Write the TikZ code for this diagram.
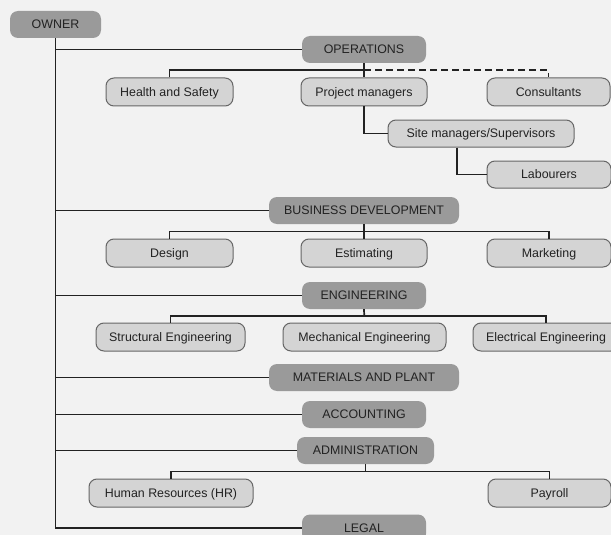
\documentclass[tikz,border=0pt]{standalone}
\usepackage{fontspec}
\setmainfont{Liberation Sans}
\usepackage{xcolor}
\definecolor{colDept}{HTML}{9A9A9A}
\definecolor{colUnit}{HTML}{D4D4D4}
\definecolor{colUnitLine}{HTML}{666666}
\definecolor{colPaper}{HTML}{F2F2F2}
\definecolor{colText}{HTML}{222222}
\usetikzlibrary{calc}

\begin{document}
\begin{tikzpicture}[
				x=1pt, y=-1pt,
				every node/.style={font=\fontsize{12.4}{14}\selectfont, text=colText,
				      text height=9pt, text depth=0.6pt},
				dept/.style={fill=colDept, rounded corners=8pt,
				      minimum height=27pt, inner sep=0pt},
				unit/.style={draw=colUnitLine, line width=1pt, fill=colUnit,
				      rounded corners=8pt, minimum height=28pt, inner sep=0pt},
				link/.style={line width=1.7pt, colText}
			]
				\useasboundingbox (0,0) rectangle (611,535);
				\fill[colPaper] (0,0) rectangle (611,535);
				% top level
				\node[dept, minimum width=91pt] (owner) at (55.5,24.5) {OWNER};
				\node[dept, minimum width=124pt] (ops) at (364,49.5) {OPERATIONS};
				\node[dept, minimum width=190pt] (bd) at (364,210.5) {BUSINESS DEVELOPMENT};
				\node[dept, minimum width=124pt] (eng) at (364,295.5) {ENGINEERING};
				\node[dept, minimum width=190pt] (mat) at (364,377.5) {MATERIALS AND PLANT};
				\node[dept, minimum width=124pt] (acc) at (364,414.5) {ACCOUNTING};
				\node[dept, minimum width=137pt] (adm) at (365.5,450.5) {ADMINISTRATION};
				\node[dept, minimum width=124pt] (legal) at (364,528) {LEGAL};
				% operations
				\node[unit, minimum width=127pt] (hs) at (169.5,92) {Health and Safety};
				\node[unit, minimum width=126pt] (pm) at (364,92) {Project managers};
				\node[unit, minimum width=123pt] (cons) at (548.5,92) {Consultants};
				\node[unit, minimum width=186pt, minimum height=27pt] (sm) at (481,133.5) {Site managers/Supervisors};
				\node[unit, minimum width=124pt, minimum height=27pt] (lab) at (549,174.5) {Labourers};
				% business development
				\node[unit, minimum width=127pt] (des) at (169.5,253) {Design};
				\node[unit, minimum width=126pt] (est) at (364,253) {Estimating};
				\node[unit, minimum width=124pt] (mkt) at (549,253) {Marketing};
				% engineering
				\node[unit, minimum width=149pt] (struc) at (170.5,337) {Structural Engineering};
				\node[unit, minimum width=163pt] (mech) at (364.5,337) {Mechanical Engineering};
				\node[unit, minimum width=146pt] (elec) at (546,337) {Electrical Engineering};
				% administration
				\node[unit, minimum width=164pt] (hr) at (171,493) {Human Resources (HR)};
				\node[unit, minimum width=123pt] (pay) at (549.5,493) {Payroll};

				% owner trunk
				\draw[link] (owner.south) |- (legal.west);
				\foreach \d in {ops, bd, eng, mat, acc, adm}
					\draw[link] (owner.south |- \d.west) -- (\d.west);
				% operations
				\coordinate (opsbar) at ($(ops.south)!.5!(pm.north)$);
				\draw[link] (ops.south) -- (pm.north);
				\draw[link] (hs.north) |- (opsbar);
				\draw[link, dash pattern=on 7pt off 4pt] (opsbar) -| (cons.north);
				\draw[link] (pm.south) |- (sm.west);
				\draw[link] ([xshift=-24pt]sm.south) |- (lab.west);
				% business development
				\coordinate (bdbar) at ($(bd.south)!.5!(est.north)$);
				\draw[link] (bd.south) -- (est.north);
				\draw[link] (des.north) |- (bdbar) -| (mkt.north);
				% engineering
				\coordinate (engbar) at ($(eng.south)!.5!(mech.north)$);
				\draw[link] (eng.south) -- (engbar);
				\draw[link] (struc.north) |- (engbar) -| (elec.north);
				% administration
				\coordinate (admbar) at ($(adm.south)!.5!(adm.south |- hr.north)$);
				\draw[link] (adm.south) -- (admbar);
				\draw[link] (hr.north) |- (admbar) -| (pay.north);
			\end{tikzpicture}
\end{document}
